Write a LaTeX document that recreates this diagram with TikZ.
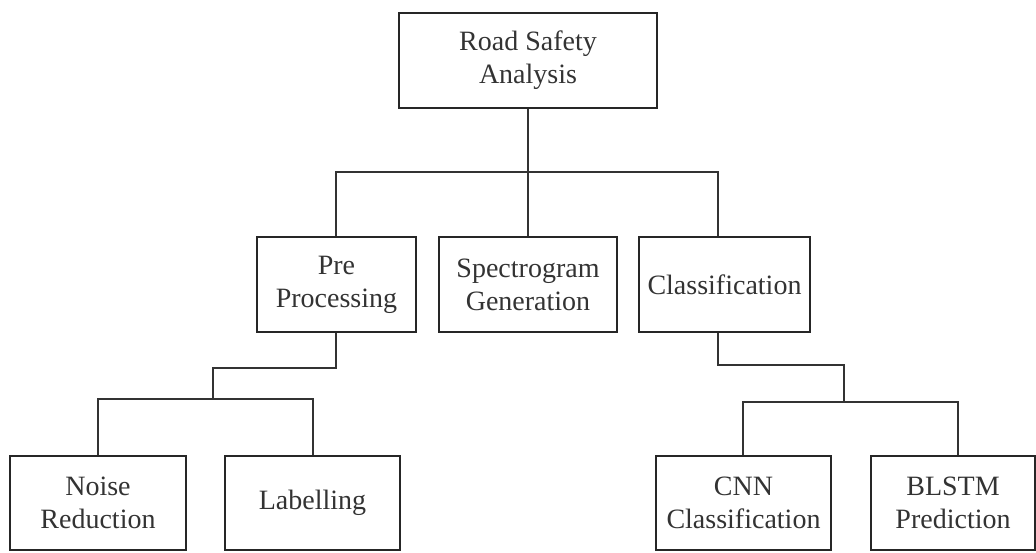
\documentclass[tikz,border=0pt]{standalone}
\usepackage{fontspec}
\setmainfont{Liberation Serif}
\begin{document}
\begin{tikzpicture}[x=1pt,y=-1pt,
  box/.style={draw=black!85, line width=1.5pt, rectangle, inner sep=0pt, align=center,
    font=\fontsize{28}{33}\selectfont, text=black!80},
  link/.style={draw=black!80, line width=1.5pt}]
\useasboundingbox (0,0) rectangle (1036,552);
\node[box, minimum width=258pt, minimum height=95pt] (root) at (528,60.5) {Road Safety\\Analysis};
\node[box, minimum width=159pt, minimum height=95pt] (pre) at (336.5,284.5) {Pre\\Processing};
\node[box, minimum width=178pt, minimum height=95pt] (spec) at (528,284.5) {Spectrogram\\Generation};
\node[box, minimum width=171pt, minimum height=95pt] (cls) at (724.5,284.5) {Classification};
\node[box, minimum width=176pt, minimum height=94pt] (noise) at (98,503) {Noise\\Reduction};
\node[box, minimum width=175pt, minimum height=94pt] (lab) at (312.5,503) {Labelling};
\node[box, minimum width=175pt, minimum height=94pt] (cnn) at (743.5,503) {CNN\\Classification};
\node[box, minimum width=164pt, minimum height=94pt] (blstm) at (953,503) {BLSTM\\Prediction};
\coordinate (j1) at (528,172);
\coordinate (j2) at (213,368);
\coordinate (j3) at (213,399);
\coordinate (j4) at (844,365);
\coordinate (j5) at (844,402);
\draw[link] (root.south) -- (j1);
\draw[link] ([xshift=-0.5pt]pre.north) |- (j1);
\draw[link] (spec.north) -- (j1);
\draw[link] ([xshift=-6.5pt]cls.north) |- (j1);
\draw[link] ([xshift=-0.5pt]pre.south) |- (j2) -- (j3);
\draw[link] (noise.north) |- (j3);
\draw[link] ([xshift=0.5pt]lab.north) |- (j3);
\draw[link] ([xshift=-6.5pt]cls.south) |- (j4) -- (j5);
\draw[link] ([xshift=-0.5pt]cnn.north) |- (j5);
\draw[link] ([xshift=5pt]blstm.north) |- (j5);
\end{tikzpicture}
\end{document}
